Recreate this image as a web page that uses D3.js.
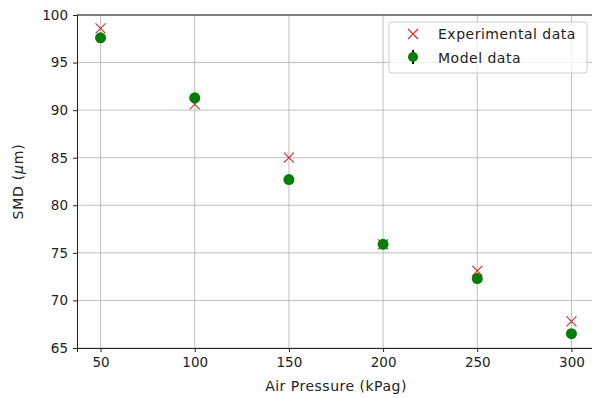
<!DOCTYPE html>
<html>
<head>
<meta charset="utf-8">
<script src="https://cdn.jsdelivr.net/npm/d3@7"></script>
<style>
  body { margin: 0; background: #fff; }
  text { font-family: "DejaVu Sans", sans-serif; }
</style>
</head>
<body>
<div id="chart"></div>
<script>
// chart values
const pressures = [50, 100, 150, 200, 250, 300];
const experimental = [98.6, 90.6, 85.0, 75.9, 73.1, 67.8];
const model = [97.6, 91.3, 82.7, 75.9, 72.3, 66.5];
const modelErr = [0.3, 0.3, 0.3, 0.3, 0.3, 0.3];
const xTicks = [50, 100, 150, 200, 250, 300];
const yTicks = [65, 70, 75, 80, 85, 90, 95, 100];

const width = 592, height = 398;
const margin = { top: 15, right: -3, bottom: 50, left: 77 };

const svg = d3.select('#chart').append('svg').attr('width', width).attr('height', height);

const x = d3.scaleLinear().domain([37.5, 312.5]).range([margin.left, width - margin.right]);
const y = d3.scaleLinear().domain([65, 100]).range([height - margin.bottom, margin.top]);

// grid
const grid = svg.append('g').attr('stroke', '#b0b0b0').attr('stroke-width', 0.8);
grid.selectAll('.gx').data(xTicks).enter().append('line')
  .attr('x1', d => x(d)).attr('x2', d => x(d))
  .attr('y1', y(65)).attr('y2', y(100));
grid.selectAll('.gy').data(yTicks).enter().append('line')
  .attr('x1', x(37.5)).attr('x2', x(312.5))
  .attr('y1', d => y(d)).attr('y2', d => y(d));

// axes
const xAxis = svg.append('g').attr('transform', 'translate(0,' + y(65) + ')')
  .call(d3.axisBottom(x).tickValues(xTicks).tickSize(4).tickPadding(5));
const yAxis = svg.append('g').attr('transform', 'translate(' + x(37.5) + ',0)')
  .call(d3.axisLeft(y).tickValues(yTicks).tickSize(4).tickPadding(5));
[xAxis, yAxis].forEach(a => {
  a.selectAll('text').attr('font-size', 13.5).attr('fill', '#222');
  a.selectAll('line').attr('stroke', '#222');
  a.select('.domain').attr('stroke', '#222');
});
// top spine
svg.append('line').attr('x1', x(37.5)).attr('x2', x(312.5)).attr('y1', y(100)).attr('y2', y(100))
  .attr('stroke', '#222');

// labels
svg.append('text').attr('x', x(175)).attr('y', 391).attr('text-anchor', 'middle')
  .attr('font-size', 14).attr('letter-spacing', 0.5).attr('fill', '#222').text('Air Pressure (kPag)');
const yl = svg.append('text').attr('transform', 'translate(23,' + y(82.5) + ') rotate(-90)')
  .attr('text-anchor', 'middle').attr('font-size', 14).attr('letter-spacing', 0.8).attr('fill', '#222');
yl.append('tspan').text('SMD (');
yl.append('tspan').attr('font-style', 'italic').text('μ');
yl.append('tspan').text('m)');

// experimental markers
const cross = 5;
const exp = svg.append('g').attr('stroke', '#d62728').attr('stroke-width', 1.1);
exp.selectAll('path').data(pressures).enter().append('path')
  .attr('d', (d, i) => {
    const cx = x(d), cy = y(experimental[i]);
    return `M${cx - cross},${cy - cross}L${cx + cross},${cy + cross}M${cx - cross},${cy + cross}L${cx + cross},${cy - cross}`;
  });

// model markers with error bars
const mod = svg.append('g');
mod.selectAll('line').data(pressures).enter().append('line')
  .attr('x1', d => x(d)).attr('x2', d => x(d))
  .attr('y1', (d, i) => y(model[i] - modelErr[i])).attr('y2', (d, i) => y(model[i] + modelErr[i]))
  .attr('stroke', '#000').attr('stroke-width', 1.5);
mod.selectAll('circle').data(pressures).enter().append('circle')
  .attr('cx', d => x(d)).attr('cy', (d, i) => y(model[i])).attr('r', 5.5)
  .attr('fill', 'green');

// legend
const lg = svg.append('g').attr('transform', 'translate(389,22)');
lg.append('rect').attr('width', 198).attr('height', 51).attr('rx', 3)
  .attr('fill', '#fff').attr('fill-opacity', 0.8).attr('stroke', '#ccc');
lg.append('path').attr('d', 'M19,7L29,17M19,17L29,7').attr('stroke', '#d62728').attr('stroke-width', 1.1);
lg.append('line').attr('x1', 24).attr('x2', 24).attr('y1', 28).attr('y2', 42).attr('stroke', '#000').attr('stroke-width', 2);
lg.append('circle').attr('cx', 24).attr('cy', 35).attr('r', 5).attr('fill', 'green');
lg.append('text').attr('x', 49).attr('y', 16.5).attr('font-size', 14).attr('letter-spacing', 0.5)
  .attr('fill', '#222').text('Experimental data');
lg.append('text').attr('x', 49).attr('y', 40.5).attr('font-size', 14).attr('letter-spacing', 0.5)
  .attr('fill', '#222').text('Model data');
</script>
</body>
</html>
